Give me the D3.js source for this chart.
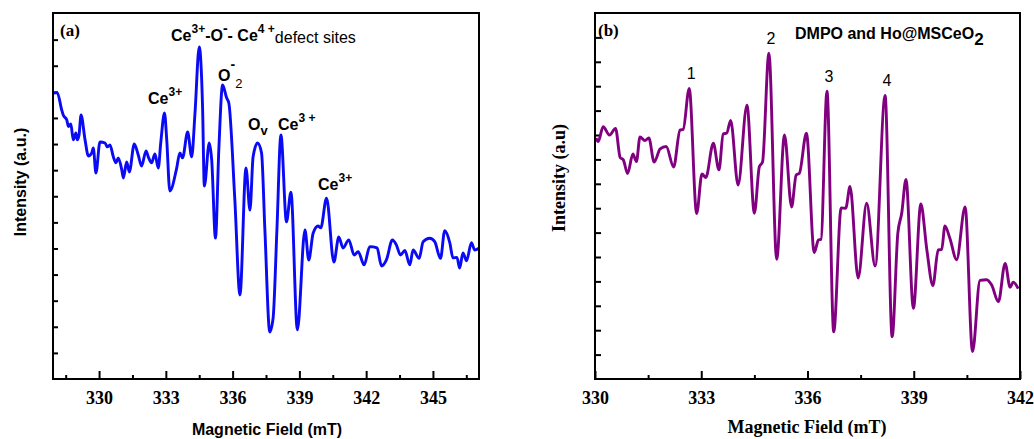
<!DOCTYPE html>
<html><head><meta charset="utf-8">
<script src="https://cdn.jsdelivr.net/npm/d3@7"></script>
<style>body{margin:0;background:#fff}svg{display:block}</style>
</head><body>
<svg id="c" width="1034" height="439"></svg>
<script>
// ---------- Panel (a) data ----------
const aField = [327.96,328.12,328.32,328.39,328.55,328.62,328.73,328.84,328.96,329.02,329.10,329.19,329.37,329.52,329.67,329.74,329.86,330.04,330.27,330.37,330.49,330.64,330.76,330.86,331.02,331.09,331.24,331.36,331.58,331.76,331.91,332.11,332.21,332.36,332.51,332.66,332.77,332.94,333.04,333.18,333.48,333.63,333.75,333.98,334.16,334.31,334.50,334.65,334.73,334.95,335.06,335.23,335.38,335.55,335.73,335.83,336.10,336.33,336.60,336.78,336.92,337.12,337.30,337.45,337.67,337.82,337.99,338.17,338.42,338.62,338.91,339.25,339.42,339.62,339.84,339.96,340.22,340.55,340.77,340.96,341.22,341.46,341.64,341.91,342.16,342.49,342.69,342.91,343.18,343.36,343.54,343.74,343.96,344.11,344.38,344.56,344.86,345.08,345.34,345.53,345.76,345.90,346.08,346.20,346.35,346.51,346.73,346.88,347.06];
const aIntensity = [10.95,10.97,10.31,10.11,9.92,9.67,9.77,9.16,9.43,9.16,9.35,10.11,9.16,8.54,8.66,8.85,7.89,9.08,9.04,8.89,8.97,8.51,8.28,8.47,8.01,7.70,8.31,7.93,9.00,8.58,8.16,8.74,8.51,8.28,8.62,8.08,9.04,10.19,9.16,7.20,8.05,8.66,8.47,9.46,8.51,10.19,12.72,10.42,7.39,9.04,8.39,5.40,8.77,11.26,10.77,10.57,6.86,3.22,8.08,6.47,8.51,9.04,8.66,5.71,1.80,2.34,5.71,9.35,6.02,7.16,1.88,5.71,4.56,5.59,5.86,5.79,6.93,4.48,5.44,5.02,5.33,4.75,4.88,4.37,5.07,5.02,4.33,4.56,5.33,5.13,4.75,4.92,4.37,4.94,4.62,5.26,5.39,5.26,4.62,5.68,5.21,4.64,4.66,4.25,4.83,4.53,5.22,4.94,5.01];
const aXTicks = [330,333,336,339,342,345];
const aXMinor = [328.5,331.5,334.5,337.5,340.5,343.5,346.5];
const aYTicks = [1,2,3,4,5,6,7,8,9,10,11,12,13];

// ---------- Panel (b) data ----------
const bField = [330.03,330.09,330.23,330.41,330.58,330.71,330.80,330.92,331.07,331.17,331.27,331.41,331.52,331.67,331.84,332.01,332.22,332.40,332.49,332.66,332.87,333.02,333.13,333.34,333.50,333.62,333.72,333.83,334.04,334.29,334.50,334.64,334.73,334.91,335.13,335.35,335.55,335.68,335.77,335.97,336.19,336.31,336.38,336.55,336.74,336.95,337.08,337.20,337.43,337.67,337.91,338.19,338.39,338.55,338.66,338.78,338.99,339.20,339.37,339.54,339.69,339.79,339.88,340.02,340.21,340.45,340.66,340.87,341.06,341.20,341.39,341.58,341.72,341.81,341.95];
const bIntensity = [9.88,9.73,10.34,10.00,10.27,9.08,8.98,8.42,9.22,8.91,9.92,9.77,9.88,8.89,9.43,9.53,8.69,10.20,10.23,11.91,6.78,8.40,8.26,9.66,8.57,10.04,10.08,10.60,7.95,11.22,6.79,8.70,8.89,13.35,4.91,10.00,7.05,8.36,8.43,10.07,5.18,5.70,5.72,11.80,1.93,7.01,7.00,7.89,4.14,7.20,4.63,11.62,1.73,5.97,6.79,8.18,2.90,7.17,5.29,3.83,5.29,5.31,6.27,5.77,4.89,7.05,1.12,4.04,4.07,3.85,3.17,4.74,3.76,3.97,3.70];
const bXTicks = [330,333,336,339,342];
const bXMinor = [331.5,334.5,337.5,340.5];
const bYTicks = [1,2,3,4,5,6,7,8,9,10,11,12,13,14];
const bPeakLabels = ["1","2","3","4"];
const bPeakField = [332.66,334.91,336.55,338.19];
const bPeakHeight = [11.91,13.35,11.80,11.62];

const svg = d3.select("#c");
const serifB = "'Liberation Serif','Times New Roman',serif";
const sans = "'Liberation Sans',Arial,sans-serif";

function panel(cfg){
  const g = svg.append("g");
  const x = d3.scaleLinear().domain(cfg.xDomain).range([cfg.left, cfg.right]);
  const y = d3.scaleLinear().domain(cfg.yDomain).range([cfg.bottom, cfg.top]);
  const ax = g.append("g").attr("transform",`translate(0,${cfg.bottom})`)
    .call(d3.axisBottom(x).tickValues(cfg.xTicks).tickSize(-8).tickPadding(12).tickFormat(d3.format("d")));
  ax.select(".domain").remove();
  ax.selectAll("line").attr("stroke","#000").attr("stroke-width",2);
  ax.selectAll("text").attr("font-family",serifB).attr("font-weight","bold").attr("font-size",18).attr("fill","#000");
  const mx = g.append("g").attr("transform",`translate(0,${cfg.bottom})`)
    .call(d3.axisBottom(x).tickValues(cfg.xMinor).tickSize(-4).tickFormat(""));
  mx.select(".domain").remove();
  mx.selectAll("line").attr("stroke","#000").attr("stroke-width",2);
  const ay = g.append("g").attr("transform",`translate(${cfg.left},0)`)
    .call(d3.axisLeft(y).tickValues(cfg.yTicks).tickSize(-cfg.yTick).tickFormat(""));
  ay.select(".domain").remove();
  ay.selectAll("line").attr("stroke","#000").attr("stroke-width",2);
  const line = d3.line().x(d=>x(d[0])).y(d=>y(d[1])).curve(d3.curveMonotoneX);
  g.append("path").datum(d3.zip(cfg.xs, cfg.ys)).attr("d",line)
    .attr("fill","none").attr("stroke",cfg.color).attr("stroke-width",2.9).attr("stroke-linejoin","round");
  g.append("rect").attr("x",cfg.left).attr("y",cfg.top).attr("width",cfg.right-cfg.left).attr("height",cfg.bottom-cfg.top)
    .attr("fill","none").attr("stroke","#000").attr("stroke-width",2);
  return {g,x,y};
}

const A = panel({xDomain:[327.93,347.07], yDomain:[0,14.02], left:53, right:479, top:13, bottom:379,
  xTicks:aXTicks, xMinor:aXMinor, yTicks:aYTicks, yTick:5, xs:aField, ys:aIntensity, color:"#0a0af5"});
const B = panel({xDomain:[330,342], yDomain:[0,15], left:595, right:1020, top:13, bottom:379,
  xTicks:bXTicks, xMinor:bXMinor, yTicks:bYTicks, yTick:6, xs:bField, ys:bIntensity, color:"#800080"});

// Axis titles
svg.append("text").attr("x",267).attr("y",435).attr("text-anchor","middle")
  .attr("font-family",sans).attr("font-weight","bold").attr("font-size",16).text("Magnetic Field (mT)");
svg.append("text").attr("transform","translate(26,182) rotate(-90)").attr("text-anchor","middle")
  .attr("font-family",sans).attr("font-weight","bold").attr("font-size",16).text("Intensity (a.u.)");
svg.append("text").attr("x",807).attr("y",433).attr("text-anchor","middle")
  .attr("font-family",serifB).attr("font-weight","bold").attr("font-size",18).text("Magnetic Field (mT)");
svg.append("text").attr("transform","translate(565,178) rotate(-90)").attr("text-anchor","middle")
  .attr("font-family",serifB).attr("font-weight","bold").attr("font-size",18).text("Intensity (a.u)");

svg.append("text").attr("x",60).attr("y",36).attr("font-family",serifB).attr("font-weight","bold").attr("font-size",17).text("(a)");
svg.append("text").attr("x",598).attr("y",36).attr("font-family",serifB).attr("font-weight","bold").attr("font-size",17).text("(b)");

function rich(x, y, parts){
  const t = svg.append("text").attr("x",x).attr("y",y).attr("font-family",sans).attr("fill","#000");
  parts.forEach(p=>{
    t.append("tspan").attr("dy",p.dy||0).attr("font-size",p.size||16)
      .attr("font-weight",p.w||"bold").text(p.t);
  });
}
rich(171,41,[{t:"Ce"},{t:"3+",size:12,dy:-8},{t:"-O",dy:8},{t:"-",size:14,dy:-8},{t:"- Ce",dy:8},{t:"4 +",size:12,dy:-8},{t:"defect sites",w:"normal",dy:10}]);
rich(148,104,[{t:"Ce"},{t:"3+",size:12,dy:-8}]);
rich(218,81,[{t:"O"},{t:"-",size:14,dy:-12},{t:"2",size:13,w:"normal",dy:19}]);
rich(248,130,[{t:"O"},{t:"v",size:13,dy:5}]);
rich(278,130,[{t:"Ce"},{t:"3 +",size:12,dy:-8}]);
rich(318,190,[{t:"Ce"},{t:"3+",size:12,dy:-8}]);

rich(795,39,[{t:"DMPO and Ho@MSCeO",size:16},{t:"2",size:17,dy:6}]);
svg.append("g").selectAll("text").data(d3.zip(bPeakLabels,bPeakField,bPeakHeight))
  .join("text").attr("x",d=>B.x(d[1])+2).attr("y",d=>B.y(d[2])-9).attr("text-anchor","middle")
  .attr("font-family",sans).attr("font-size",16).text(d=>d[0]);
</script>
</body></html>
